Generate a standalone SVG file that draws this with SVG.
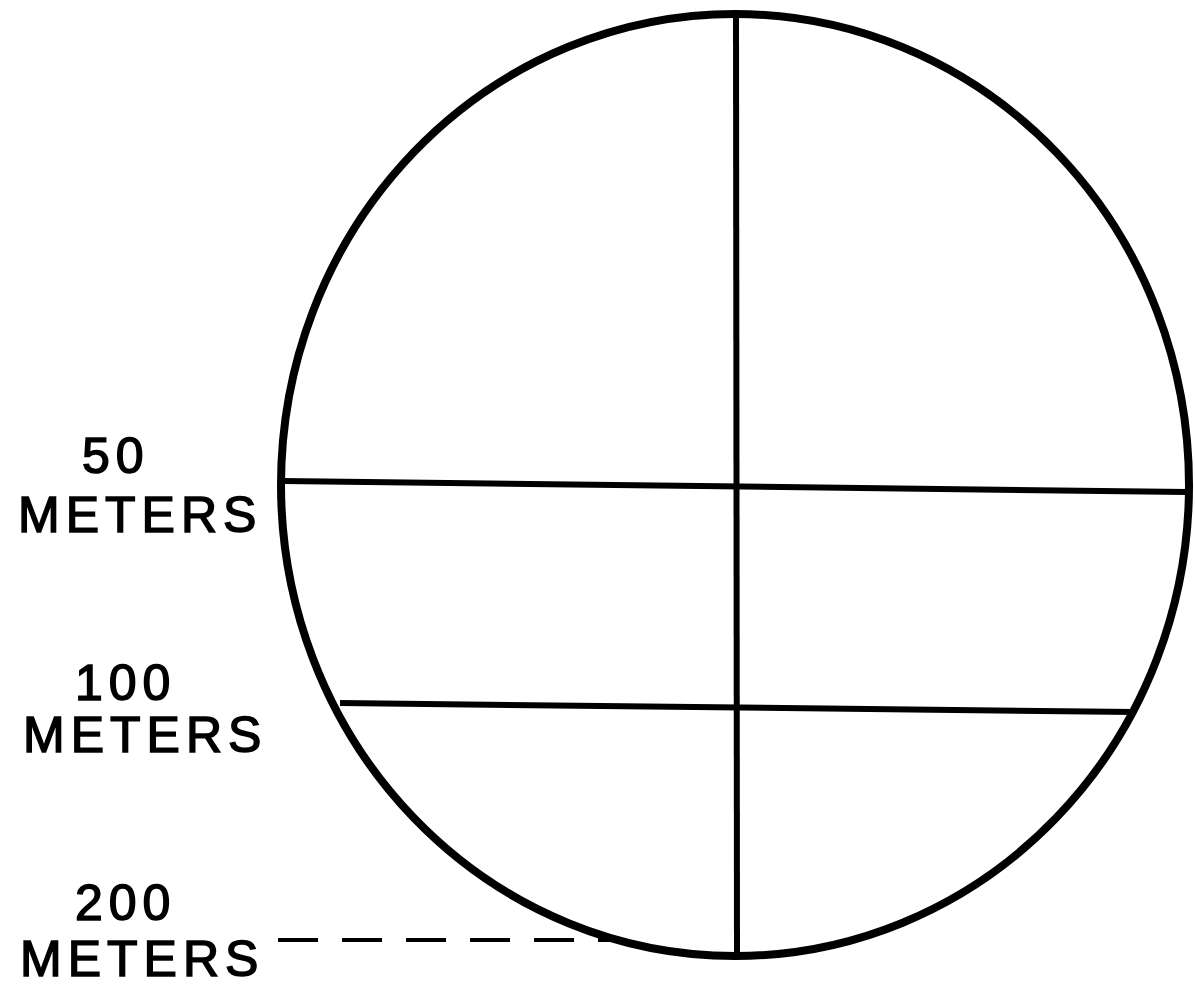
<svg xmlns="http://www.w3.org/2000/svg" width="1195" height="987" viewBox="0 0 1195 987">
<style>
.ln{stroke:#000;fill:none;stroke-linecap:butt}
.t{font-family:"Liberation Sans",Arial,sans-serif;font-size:50px;fill:#000;stroke:#000;stroke-width:1.5px;letter-spacing:6px}
</style>
<rect width="1195" height="987" fill="#fff"/>
<g id="circle"><ellipse class="ln" cx="735" cy="485" rx="454" ry="471" stroke-width="8"/></g>
<g id="connectors">
<path class="ln" d="M736 14 L737 957" stroke-width="6"/>
<path class="ln" d="M283 481 L1187 492" stroke-width="6"/>
<path class="ln" d="M340 703 L1135 712" stroke-width="6"/>
<path class="ln" d="M278 940 L612 940" stroke-width="4" stroke-dasharray="40 24"/>
</g>
<g id="label-50"><text class="t" x="82" y="473">50</text><text class="t" x="18" y="532">METERS</text></g>
<g id="label-100"><text class="t" x="75" y="700">100</text><text class="t" x="23" y="752">METERS</text></g>
<g id="label-200"><text class="t" x="75" y="920">200</text><text class="t" x="20" y="976">METERS</text></g>
</svg>
